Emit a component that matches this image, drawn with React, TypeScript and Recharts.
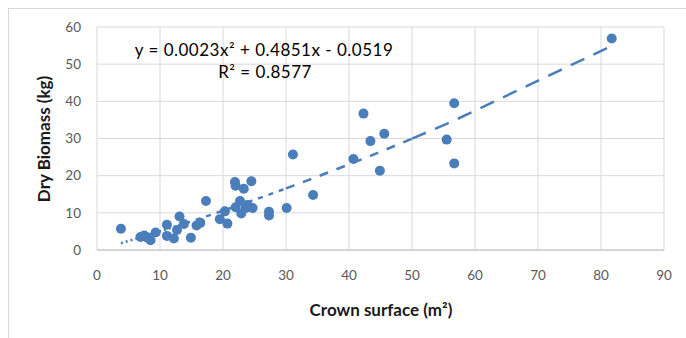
import React from "react";
import { ScatterChart, Scatter, XAxis, YAxis, CartesianGrid } from "recharts";

const crownSurface = [
  3.8, 6.9, 7.5, 7.9, 8.5, 9.3, 11.1, 11.1, 12.2, 12.7, 13.1, 13.8, 14.9, 15.8, 16.4,
  17.3, 19.5, 20.3, 20.7, 21.9, 22.0, 22.0, 22.7, 22.9, 23.3, 23.6, 23.9, 24.5, 24.7,
  27.3, 27.3, 30.1, 31.1, 34.3, 40.7, 42.3, 43.4, 44.9, 45.6, 55.5, 56.7, 56.7, 81.7,
];
const dryBiomass = [
  5.7, 3.5, 3.9, 3.4, 2.6, 4.7, 6.8, 3.8, 3.1, 5.4, 9.0, 7.0, 3.3, 6.6, 7.3,
  13.2, 8.3, 10.4, 7.1, 18.3, 17.3, 11.5, 13.2, 9.8, 16.5, 11.3, 12.1, 18.5, 11.3,
  10.3, 9.3, 11.3, 25.7, 14.8, 24.5, 36.7, 29.3, 21.3, 31.3, 29.7, 39.5, 23.3, 56.9,
];

// Displayed trendline equation: y = a x^2 + b x + c
const trendCoefficients = [0.0023, 0.4851, -0.0519];
const equationText = "y = 0.0023x\u00B2 + 0.4851x - 0.0519";
const r2Text = "R\u00B2 = 0.8577";

const xTicks = [0, 10, 20, 30, 40, 50, 60, 70, 80, 90];
const yTicks = [0, 10, 20, 30, 40, 50, 60];
const xTitle = "Crown surface (m\u00B2)";
const yTitle = "Dry Biomass (kg)";

// Trendline drawn in segments (the dash pattern grows along the line)
const trendBreaks = [3.8, 14, 30, 50, 81.7];
const trendDashes = ["2 3", "5 6", "9 9", "15 10"];

const BLUE = "#4a7ebb";

const points = crownSurface.map((x, i) => ({ x, y: dryBiomass[i] }));

const evalTrend = (x: number) =>
  trendCoefficients[0] * x * x + trendCoefficients[1] * x + trendCoefficients[2];

const sortedX = Array.from(new Set(crownSurface)).sort((a, b) => a - b);
const trendSegments = trendDashes.map((dash, i) => {
  const lo = trendBreaks[i];
  const hi = trendBreaks[i + 1];
  const xs = [lo, ...sortedX.filter((x) => x > lo && x < hi), hi];
  return { dash, data: xs.map((x) => ({ x, y: evalTrend(x) })) };
});

const FONT = "Lato, 'Open Sans', sans-serif";

const Dot = (p: any) => <circle cx={p.cx} cy={p.cy} r={5} fill={BLUE} />;
const NoDot = () => <g />;

export default function App() {
  return (
    <div
      style={{
        position: "absolute",
        left: 0,
        top: 0,
        width: 686,
        height: 338,
        overflow: "hidden",
        background: "#fff",
      }}
    >
      <div
        style={{
          position: "absolute",
          left: 8,
          top: 8,
          width: 800,
          height: 400,
          borderLeft: "1px solid #d9d9d9",
          borderTop: "1px solid #d9d9d9",
        }}
      />
      <div style={{ position: "absolute", left: 0, top: 0 }}>
        <ScatterChart
          width={686}
          height={338}
          margin={{ top: 27, right: 22, bottom: 28, left: 20 }}
        >
          <CartesianGrid stroke="#d9d9d9" strokeWidth={1} />
          <XAxis
            type="number"
            dataKey="x"
            domain={[0, 90]}
            ticks={xTicks}
            interval={0}
            height={60}
            tickSize={0}
            tickMargin={20}
            axisLine={{ stroke: "#bfbfbf", strokeWidth: 1 }}
            tick={{ fill: "#595959", fontSize: 13.5, fontFamily: FONT }}
            allowDataOverflow
          />
          <YAxis
            type="number"
            dataKey="y"
            domain={[0, 60]}
            ticks={yTicks}
            interval={0}
            width={77}
            tickSize={0}
            tickMargin={16}
            axisLine={false}
            tick={{ fill: "#595959", fontSize: 13.5, fontFamily: FONT }}
            allowDataOverflow
          />
          {trendSegments.map((seg, i) => (
            <Scatter
              key={"t" + i}
              data={seg.data}
              line={{ stroke: BLUE, strokeWidth: 2.5, strokeDasharray: seg.dash }}
              lineType="joint"
              shape={NoDot}
              isAnimationActive={false}
            />
          ))}
          <Scatter data={points} shape={Dot} isAnimationActive={false} />
        </ScatterChart>
      </div>
      <svg
        width={686}
        height={338}
        style={{ position: "absolute", left: 0, top: 0, pointerEvents: "none" }}
      >
        <text
          x={264}
          y={56}
          textAnchor="middle"
          fontFamily={FONT}
          fontSize={17}
          letterSpacing={0.5}
          fill="#000"
        >
          {equationText}
        </text>
        <text
          x={265}
          y={78}
          textAnchor="middle"
          fontFamily={FONT}
          fontSize={17}
          letterSpacing={0.5}
          fill="#000"
        >
          {r2Text}
        </text>
        <text
          x={381}
          y={316}
          textAnchor="middle"
          fontFamily={FONT}
          fontSize={17}
          fontWeight="bold"
          fill="#1a1a1a"
        >
          {xTitle}
        </text>
        <text
          transform="translate(50,139) rotate(-90)"
          textAnchor="middle"
          fontFamily={FONT}
          fontSize={17}
          fontWeight="bold"
          fill="#1a1a1a"
        >
          {yTitle}
        </text>
      </svg>
    </div>
  );
}
